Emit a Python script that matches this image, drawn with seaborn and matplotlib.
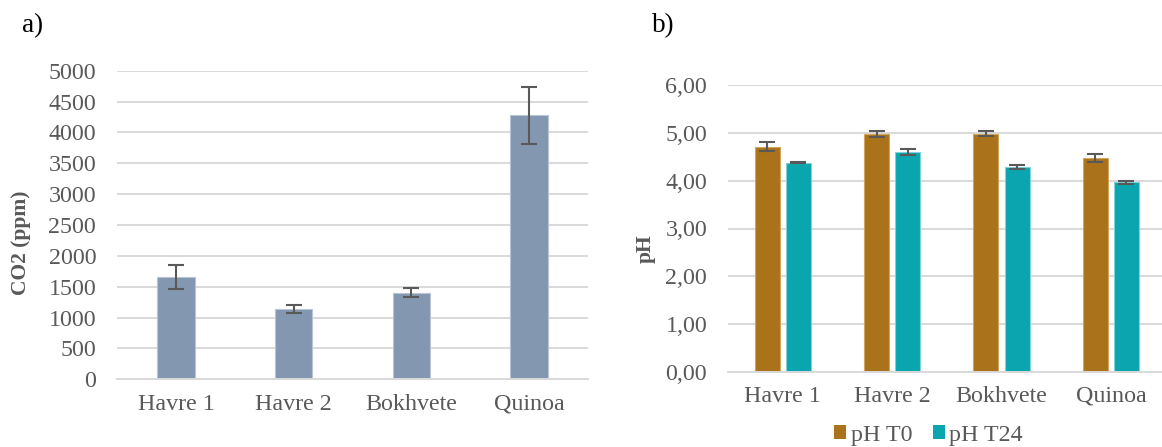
import numpy as np
import pandas as pd
import matplotlib
matplotlib.use("Agg")
import matplotlib.pyplot as plt
import seaborn as sns

# --- data -------------------------------------------------------------
grains = ["Havre 1", "Havre 2", "Bokhvete", "Quinoa"]

co2_mean = [1660, 1140, 1405, 4275]
co2_sd = [195, 62, 68, 455]
co2_ticks = [0, 500, 1000, 1500, 2000, 2500, 3000, 3500, 4000, 4500, 5000]

ph_series = ["pH T0", "pH T24"]
ph_t0_mean = [4.71, 4.98, 4.98, 4.47]
ph_t0_sd = [0.09, 0.06, 0.05, 0.08]
ph_t24_mean = [4.37, 4.60, 4.28, 3.97]
ph_t24_sd = [0.01, 0.06, 0.04, 0.03]
ph_ticks = [0, 1, 2, 3, 4, 5, 6]

# --- style ------------------------------------------------------------
sns.set_theme(style="white")
plt.rcParams["font.family"] = ["Liberation Serif", "DejaVu Serif"]

TXT = "#595959"
GRID = "#d9d9d9"
ERR = "#595959"
BLUE_GREY = "#8497B0"
ORANGE = "#AA731B"
TEAL = "#0BA5B0"
TICK_FS = 17.3
LABEL_FS = 15.5

fig = plt.figure(figsize=(11.62, 4.47), dpi=100)
W, H = 1162, 447

ax_a = fig.add_axes([117 / W, 1 - 379.3 / H, 471 / W, 308.6 / H])
ax_b = fig.add_axes([728 / W, 1 - 372 / H, 434 / W, 287 / H])


def style_axes(ax, ticks, ticklabels, ypad, xpad):
    ax.set_yticks(ticks)
    ax.set_yticklabels(ticklabels)
    ax.set_ylim(ticks[0], ticks[-1])
    ax.yaxis.grid(True, color=GRID, linewidth=1.4)
    ax.xaxis.grid(False)
    ax.set_axisbelow(True)
    for s in ["top", "right", "left"]:
        ax.spines[s].set_visible(False)
    ax.spines["bottom"].set_color(GRID)
    ax.spines["bottom"].set_linewidth(1.4)
    ax.tick_params(axis="y", length=0, pad=ypad, labelsize=TICK_FS, labelcolor=TXT)
    ax.tick_params(axis="x", length=0, pad=xpad, labelsize=TICK_FS, labelcolor=TXT)
    ax.set_xlabel("")


# --- panel a: CO2 -----------------------------------------------------
df_a = pd.DataFrame({"grain": grains, "co2": co2_mean})
sns.barplot(data=df_a, x="grain", y="co2", order=grains, color=BLUE_GREY,
            saturation=1, width=0.317, errorbar=None, ax=ax_a,
            edgecolor="#b9c5d6", linewidth=0.8)
for bar, m, s in zip(ax_a.containers[0], co2_mean, co2_sd):
    cx = bar.get_x() + bar.get_width() / 2
    ax_a.errorbar(cx, m, yerr=s, fmt="none", ecolor=ERR, elinewidth=1.5,
                  capsize=6, capthick=1.5, zorder=5)
ax_a.set_xlim(-0.5, 3.5)
style_axes(ax_a, co2_ticks, [str(t) for t in co2_ticks], ypad=15, xpad=10.5)
ax_a.set_ylabel("CO2 (ppm)", fontsize=LABEL_FS, fontweight="bold", color=TXT,
                va="center")
ax_a.yaxis.set_label_coords((21.5 - 117) / 471, (379.3 - 243) / 308.6)

# --- panel b: pH ------------------------------------------------------
df_b = pd.DataFrame({
    "grain": grains * 2,
    "series": [ph_series[0]] * len(grains) + [ph_series[1]] * len(grains),
    "ph": ph_t0_mean + ph_t24_mean,
})
sns.barplot(data=df_b, x="grain", y="ph", hue="series", order=grains,
            hue_order=ph_series, palette=[ORANGE, TEAL], saturation=1,
            width=0.57, gap=0.2, errorbar=None, ax=ax_b,
            edgecolor=None, linewidth=0)
for cont, means, sds, edge in zip(ax_b.containers,
                                  [ph_t0_mean, ph_t24_mean],
                                  [ph_t0_sd, ph_t24_sd],
                                  ["#d2a45e", "#7fd3d9"]):
    for bar, m, s in zip(cont, means, sds):
        bar.set_edgecolor(edge)
        bar.set_linewidth(0.8)
        cx = bar.get_x() + bar.get_width() / 2
        ax_b.errorbar(cx, m, yerr=s, fmt="none", ecolor=ERR, elinewidth=1.5,
                      capsize=6, capthick=1.5, zorder=5)
ax_b.set_xlim(-0.5, 3.5 - 3.6 / 109.4)
style_axes(ax_b, ph_ticks, [f"{t:.2f}".replace(".", ",") for t in ph_ticks],
           ypad=15, xpad=10)
ax_b.set_ylabel("pH", fontsize=LABEL_FS, fontweight="bold", color=TXT, va="center")
ax_b.yaxis.set_label_coords((645.7 - 728) / 434, (372 - 249) / 287)

handles, labels = ax_b.get_legend_handles_labels()
if ax_b.get_legend() is not None:
    ax_b.get_legend().remove()
fig.legend(handles, labels, loc="center", bbox_to_anchor=(928.5 / W, 1 - 435 / H),
           ncol=2, frameon=False, fontsize=TICK_FS, labelcolor=TXT,
           handlelength=0.5, handleheight=0.5, handletextpad=0.2,
           columnspacing=0.85, borderaxespad=0, borderpad=0)

# --- panel letters ----------------------------------------------------
fig.text(22 / W, 1 - 26 / H, "a)", fontsize=19.5, color="black",
         ha="left", va="center")
fig.text(652 / W, 1 - 26 / H, "b)", fontsize=19.5, color="black",
         ha="left", va="center")

fig.savefig("out.png", dpi=100)
